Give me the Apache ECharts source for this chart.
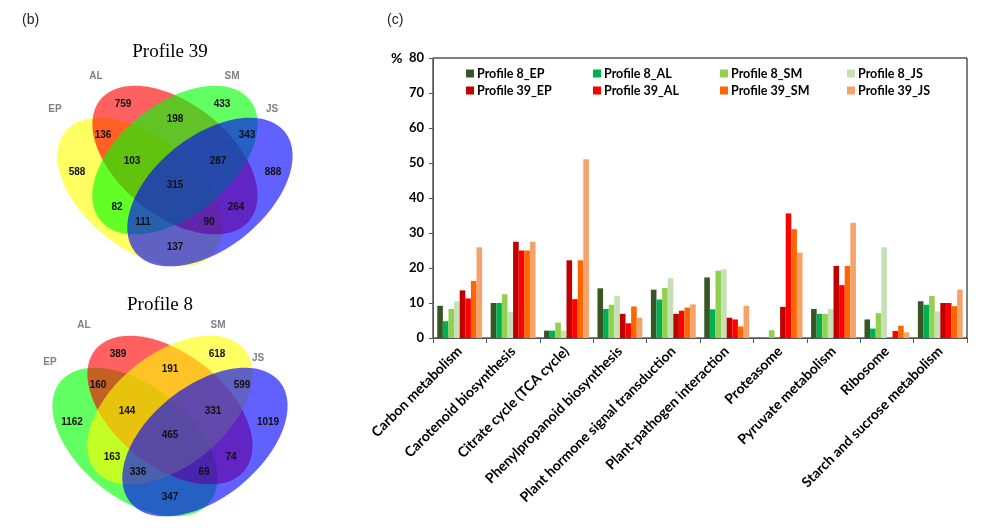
<!DOCTYPE html>
<html><head><meta charset="utf-8">
<script src="https://cdn.jsdelivr.net/npm/echarts@6/dist/echarts.min.js"></script>
<style>html,body{margin:0;padding:0;background:#fff}#c{width:992px;height:531px}</style>
</head><body><div id="c"></div>
<script>
// ---------- bar chart data ----------
const categories = ['Carbon metabolism','Carotenoid biosynthesis','Citrate cycle (TCA cycle)','Phenylpropanoid biosynthesis','Plant hormone signal transduction','Plant-pathogen interaction','Proteasome','Pyruvate metabolism','Ribosome','Starch and sucrose metabolism'];
const seriesNames = ['Profile 8_EP','Profile 8_AL','Profile 8_SM','Profile 8_JS','Profile 39_EP','Profile 39_AL','Profile 39_SM','Profile 39_JS'];
const p8_EP  = [9.2, 10.0, 2.1, 14.2, 13.8, 17.3, 0,    8.3, 5.3, 10.5];
const p8_AL  = [4.8, 10.0, 2.1, 8.3, 11.0, 8.2,  0,    6.9, 2.7, 9.5];
const p8_SM  = [8.3, 12.5, 4.4, 9.5, 14.3, 19.2, 2.2,  6.9, 7.1, 12.0];
const p8_JS  = [10.5, 7.5, 2.1, 12.0, 17.1, 19.6, 0,   8.3, 25.9, 7.6];
const p39_EP = [13.6, 27.5, 22.2, 6.9, 6.9, 5.8, 8.9,  20.6, 0, 10.0];
const p39_AL = [11.3, 25.0, 11.1, 4.2, 7.8, 5.3, 35.6, 15.1, 2.0, 10.0];
const p39_SM = [16.3, 25.0, 22.2, 9.0, 8.7, 3.3, 31.1, 20.6, 3.5, 9.1];
const p39_JS = [25.9, 27.5, 51.1, 5.8, 9.6, 9.2, 24.4, 32.9, 1.6, 13.8];
const yMin = 0, yMax = 80, yStep = 10;

// ---------- venn data ----------
const vennSetNames = ['EP','AL','SM','JS'];
const vennRegions = ['EP','AL','SM','JS','EP_AL','AL_SM','SM_JS','EP_AL_SM','AL_SM_JS','ALL','EP_SM','AL_JS','EP_SM_JS','EP_AL_JS','EP_JS'];
const venn39Counts = [588,759,433,888,136,198,343,103,287,315,82,264,111,90,137];
const venn8Counts  = [1162,389,618,1019,160,191,599,144,331,465,163,74,336,69,347];
const venn39Title = 'Profile 39';
const venn8Title = 'Profile 8';

// ---------- layout / styles ----------
const seriesColors = ['#375623','#00B050','#92D050','#C5E0B4','#C00000','#FF0000','#FF6600','#F4A36B'];
const legendLeft = [466, 593, 720, 847];
const legendTop = [67, 84];
const regionOffset = {EP:[-98,-13],AL:[-52,-81],SM:[47,-81],JS:[98,-13],EP_AL:[-72,-50],AL_SM:[0,-66],SM_JS:[72,-50],
  EP_AL_SM:[-43,-24],AL_SM_JS:[43,-24],ALL:[0,0],EP_SM:[-58,22],AL_JS:[61,22],EP_SM_JS:[-32,37],EP_AL_JS:[34,37],EP_JS:[0,62]};
const ellipseLayout = [ // EP, AL, SM, JS
  {dx:-35, dy:7, rot:38.8}, {dx:0, dy:-25, rot:38.8}, {dx:0, dy:-25, rot:-38.8}, {dx:35, dy:7, rot:-38.8}];
const ERX = 96, ERY = 56;

function vennGroup(cx, cy, counts, colors, title, titlePos, labelPos) {
  const ch = [];
  ellipseLayout.forEach((e, i) => {
    ch.push({type:'ellipse', x: cx + e.dx, y: cy + e.dy, rotation: -e.rot * Math.PI / 180,
      shape:{cx:0, cy:0, rx:ERX, ry:ERY}, style:{fill: colors[i]}, silent:true});
  });
  vennRegions.forEach((r, i) => {
    const o = regionOffset[r];
    ch.push({type:'text', x: cx + o[0], y: cy + o[1], silent:true,
      style:{text: String(counts[i]), fill:'#111', font:'bold 10px "Liberation Sans", Arial', align:'center', verticalAlign:'middle'}});
  });
  vennSetNames.forEach((s, i) => {
    ch.push({type:'text', x: labelPos[i][0], y: labelPos[i][1], silent:true,
      style:{text: s, fill:'#808080', font:'bold 10px "Liberation Sans", Arial', align:'center', verticalAlign:'middle'}});
  });
  ch.push({type:'text', x: titlePos[0], y: titlePos[1], silent:true,
    style:{text: title, fill:'#000', font:'19px "Liberation Serif", "Times New Roman", serif', align:'center', verticalAlign:'middle'}});
  return ch;
}

const colors39 = ['rgba(255,255,0,0.62)','rgba(255,0,0,0.62)','rgba(0,255,0,0.62)','rgba(0,0,255,0.62)'];
const colors8  = ['rgba(0,255,0,0.62)','rgba(255,0,0,0.62)','rgba(255,255,0,0.62)','rgba(0,0,255,0.62)'];

const graphics = [].concat(
  vennGroup(175, 185, venn39Counts, colors39, venn39Title, [170, 52], [[55,109],[96,76],[232,76],[272,109]]),
  vennGroup(170, 435, venn8Counts, colors8, venn8Title, [160, 305], [[50,362],[84,325],[218,325],[258,358]]),
  [
    {type:'text', x: 22, y: 20, style:{text:'(b)', font:'14px "Liberation Sans", Arial', fill:'#222', verticalAlign:'middle'}},
    {type:'text', x: 387, y: 20, style:{text:'(c)', font:'14px "Liberation Sans", Arial', fill:'#222', verticalAlign:'middle'}},
    {type:'text', x: 391, y: 58, style:{text:'%', font:'bold 14px Lato, "Liberation Sans"', fill:'#000', verticalAlign:'middle'}}
  ]
);

const allSeries = [p8_EP, p8_AL, p8_SM, p8_JS, p39_EP, p39_AL, p39_SM, p39_JS];
const chart = echarts.init(document.getElementById('c'));
const legends = seriesNames.map((n, i) => ({
  orient:'horizontal', left: legendLeft[i % 4], top: legendTop[Math.floor(i / 4)],
  itemWidth: 8, itemHeight: 8, itemGap: 0, icon:'rect', padding: 0, data:[n],
  textStyle:{fontFamily:'Lato', fontWeight:'bold', fontSize:12.5, color:'#000', padding:[0,0,0,-2]}
}));
chart.setOption({
  backgroundColor:'#fff',
  animation:false,
  legend: legends,
  grid:{left:433, right:25, top:58, bottom:193, show:true, borderColor:'#000', borderWidth:1, containLabel:false},
  xAxis:{type:'category', data: categories,
    axisLine:{lineStyle:{color:'#555', width:1}},
    axisTick:{show:true, length:5, lineStyle:{color:'#555'}},
    axisLabel:{rotate:45, interval:0, margin:11, fontFamily:'Lato', fontWeight:'bold', fontSize:14, color:'#000'}},
  yAxis:{type:'value', min:yMin, max:yMax, interval:yStep,
    axisLine:{show:true, lineStyle:{color:'#555'}},
    axisTick:{show:true, length:4, lineStyle:{color:'#555'}},
    splitLine:{show:false},
    axisLabel:{fontFamily:'Lato', fontWeight:'bold', fontSize:13, color:'#000', margin:9}},
  series: allSeries.map((d, i) => ({name: seriesNames[i], type:'bar', data: d, barGap:'0%', barCategoryGap:'16%',
    itemStyle:{color: seriesColors[i]}})),
  graphic: graphics
});
</script></body></html>
